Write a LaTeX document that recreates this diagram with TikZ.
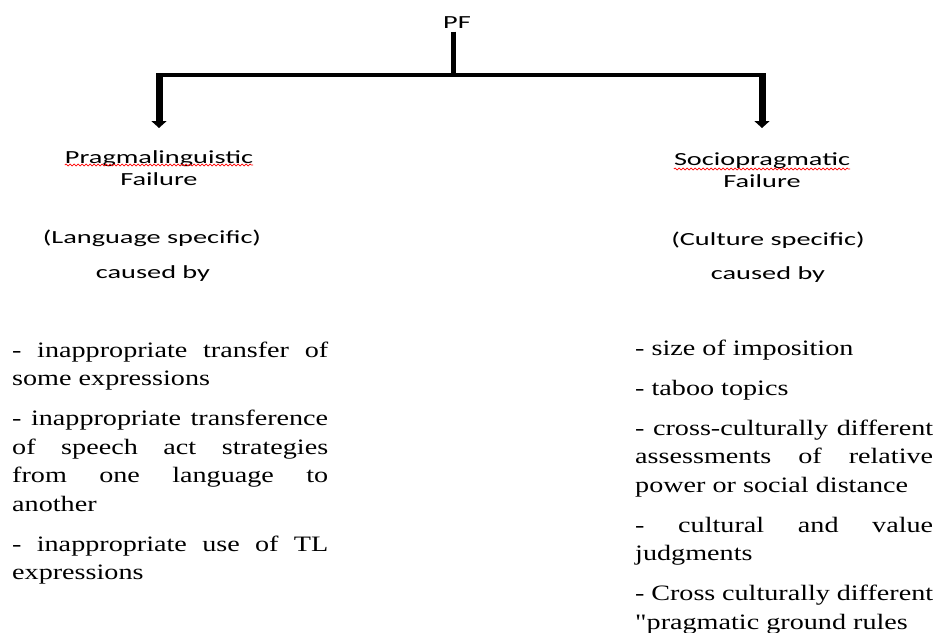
\documentclass[tikz,border=0pt]{standalone}
\usepackage{fontspec}
\setmainfont{Liberation Serif}
\newfontfamily\labelfont[FakeStretch=1.53]{Carlito}
\newfontfamily\listfont[FakeStretch=1.28]{Liberation Serif}
\usetikzlibrary{arrows.meta,decorations.pathmorphing}
\newcommand{\listsetup}{\parindent=0pt \parskip=11.5pt \hyphenpenalty=10000 \exhyphenpenalty=10000 \tolerance=10000 \hbadness=10000 }
\tikzstyle{title} = [font=\labelfont\fontsize{18.5}{22}\selectfont, align=center]
\tikzstyle{causes} = [font=\listfont\fontsize{22}{28.5}\selectfont, align=justify, inner sep=0pt, anchor=north west]
\tikzstyle{bar} = [line width=4pt]
\tikzstyle{stem} = [line width=5pt]
\tikzstyle{shaft} = [line width=7pt, -{Triangle[width=15pt,length=7pt]}]
\tikzstyle{spellmark} = [red, line width=0.7pt, decorate, decoration={snake, amplitude=1pt, segment length=4pt}]
\begin{document}
\begin{tikzpicture}[x=1pt, y=-1pt]
\useasboundingbox (0,0) rectangle (939,632);
% headings
\node[title, anchor=base] (pf) at (457,28) {PF};
\node[title, anchor=north, inner sep=0pt] (prag) at (159,150) {Pragmalinguistic\\Failure};
\node[title, anchor=north, inner sep=0pt] (socio) at (762,153) {Sociopragmatic\\Failure};
\node[title, anchor=base] (langspec) at (152,243) {(Language specific)};
\node[title, anchor=base] (causedL) at (153,278) {caused by};
\node[title, anchor=base] (cultspec) at (768,245) {(Culture specific)};
\node[title, anchor=base] (causedR) at (768,279) {caused by};
% spelling marks
\draw[spellmark] ([yshift=-15pt]prag.north west) -- ([yshift=-15pt]prag.north east);
\draw[spellmark] ([yshift=-16pt]socio.north west) -- ([yshift=-16pt]socio.north east);
% the two lists
\node[causes, text width=316pt] (listL) at (12,337) {\listsetup
  \strut- inappropriate transfer of\linebreak some expressions\par
  \strut- inappropriate transference\linebreak of speech act strategies\linebreak from one language to\linebreak another\par
  \strut- inappropriate use of TL\linebreak expressions};
\node[causes, text width=298pt] (listR) at (635,335) {\listsetup
  \strut- size of imposition\par
  \strut- taboo topics\par
  \strut- cross-culturally different\linebreak assessments of relative\linebreak power or social distance\par
  \strut- cultural and value\linebreak judgments\par
  \strut- Cross culturally different\linebreak "pragmatic ground rules};
% tree
\coordinate (fork) at (453,75);
\draw[stem] (fork |- pf.south) -- (fork);
\draw[bar] (prag.north |- fork) -- (socio.north |- fork);
\draw[shaft, shorten <=-2pt, shorten >=22pt] (prag.north |- fork) -- (prag.north);
\draw[shaft, shorten <=-2pt, shorten >=25pt] (socio.north |- fork) -- (socio.north);
\end{tikzpicture}
\end{document}
